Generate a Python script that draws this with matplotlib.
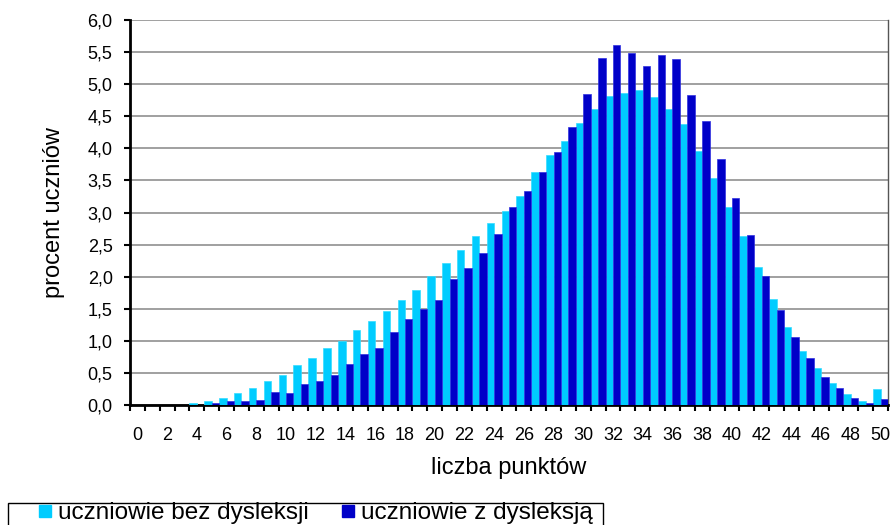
import matplotlib.pyplot as plt
import numpy as np
from matplotlib.lines import Line2D
from matplotlib.patches import Rectangle
from matplotlib.ticker import FuncFormatter

plt.rcParams["font.family"] = ["Liberation Sans", "DejaVu Sans"]

punkty = list(range(0, 51))
bez_dysleksji = [
    0.0, 0.0, 0.0, 0.0, 0.03, 0.06, 0.11, 0.19, 0.27, 0.37,
    0.47, 0.62, 0.74, 0.89, 1.0, 1.17, 1.31, 1.46, 1.64, 1.8,
    2.01, 2.22, 2.41, 2.64, 2.83, 3.03, 3.26, 3.63, 3.89, 4.12,
    4.39, 4.61, 4.82, 4.87, 4.91, 4.8, 4.61, 4.38, 3.96, 3.53,
    3.09, 2.63, 2.15, 1.65, 1.22, 0.84, 0.57, 0.35, 0.17, 0.07,
    0.25,
]
z_dysleksja = [
    0.0, 0.0, 0.0, 0.0, 0.0, 0.03, 0.06, 0.06, 0.085, 0.21,
    0.19, 0.335, 0.37, 0.47, 0.64, 0.8, 0.89, 1.13, 1.34, 1.5,
    1.64, 1.96, 2.13, 2.37, 2.67, 3.09, 3.34, 3.63, 3.95, 4.33,
    4.85, 5.41, 5.61, 5.49, 5.29, 5.45, 5.39, 4.83, 4.42, 3.84,
    3.23, 2.645, 2.01, 1.48, 1.06, 0.74, 0.43, 0.27, 0.11, 0.03,
    0.09,
]

kolor_jasny = "#00CCFF"
kolor_ciemny = "#0000C8"

W, H = 891, 525
fig = plt.figure(figsize=(W / 100, H / 100), dpi=100)
ax = fig.add_axes([130 / W, 1 - 405 / H, 758 / W, 385 / H])

x = np.array(punkty)
ax.bar(x - 0.25, bez_dysleksji, 0.5, color=kolor_jasny, edgecolor="#33DDFF", linewidth=0.5, zorder=3)
ax.bar(x + 0.25, z_dysleksja, 0.5, color=kolor_ciemny, edgecolor="#3030E0", linewidth=0.5, zorder=3)

ax.set_xlim(-0.5, 50.5)
ax.set_ylim(0, 6.0)

# osie w stylu Excela
ax.set_yticks(np.arange(0, 6.01, 0.5))
ax.yaxis.set_major_formatter(FuncFormatter(lambda v, p: f"{v:.1f}".replace(".", ",")))
ax.grid(axis="y", color="#999999", linewidth=1.3, zorder=0)
ax.tick_params(axis="y", direction="out", length=4.5, width=1.5, labelsize=13, pad=8)

ax.set_xticks(np.arange(-0.5, 51, 1.0))
ax.set_xticklabels([])
ax.set_xticks(punkty[::2], minor=True)
ax.set_xticklabels([str(p) for p in punkty[::2]], minor=True)
ax.tick_params(axis="x", which="major", direction="out", length=4, width=1.5)
ax.tick_params(axis="x", which="minor", length=0, labelsize=13, pad=16)

for s in ["left", "bottom"]:
    ax.spines[s].set_linewidth(2)
    ax.spines[s].set_color("black")
ax.spines["top"].set_visible(False)
ax.spines["right"].set_color("#555555")
ax.spines["right"].set_linewidth(1)

ax.set_xlabel("liczba punktów", fontsize=17, labelpad=9)
ax.set_ylabel("procent uczniów", fontsize=17, labelpad=16)

# ramka legendy (przycięta dolną krawędzią jak w oryginale)
fig.patches.append(Rectangle((8 / W, -0.02), 595 / W, 0.02 + 22 / H, transform=fig.transFigure,
                             fill=False, edgecolor="black", linewidth=1))

uchwyty = [
    Line2D([], [], marker="s", linestyle="none", markersize=8, color=kolor_jasny),
    Line2D([], [], marker="s", linestyle="none", markersize=8, color=kolor_ciemny),
]
fig.legend(
    uchwyty,
    ["uczniowie bez dysleksji", "uczniowie z dysleksją"],
    loc="center",
    bbox_to_anchor=(315 / W, 1 - 513 / H),
    ncol=2,
    fontsize=17.5,
    frameon=False,
    handlelength=0.6,
    handletextpad=0.25,
    columnspacing=1.3,
    borderpad=0,
)

plt.savefig("out.png", dpi=100)
